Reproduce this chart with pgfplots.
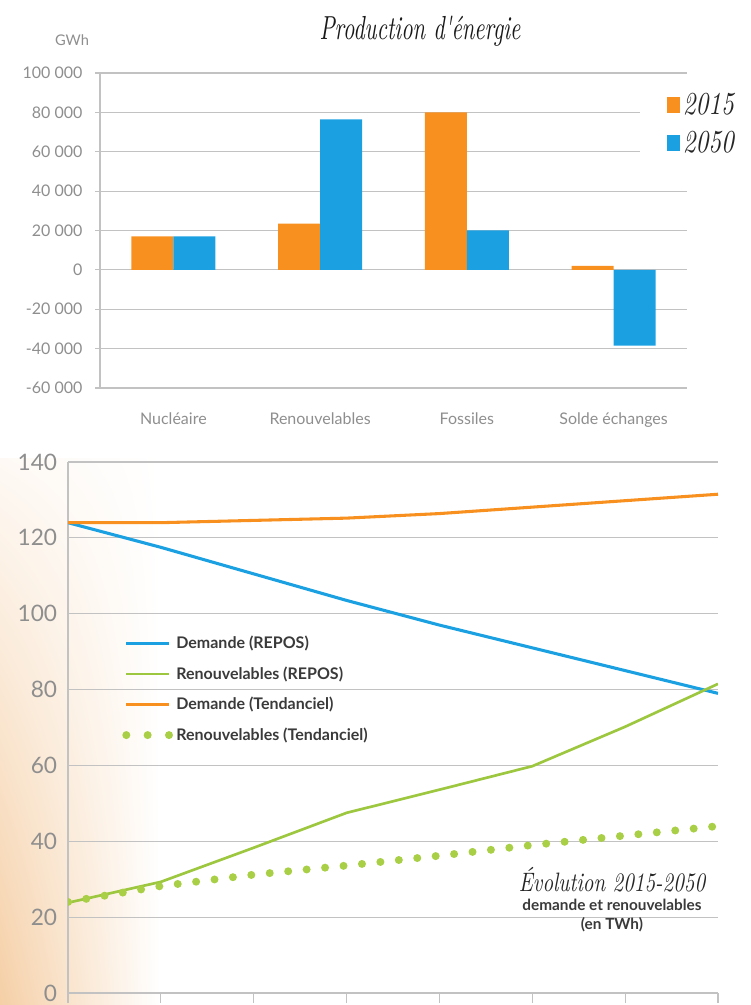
\documentclass[border=0pt]{standalone}
\usepackage{pgfplots}
\pgfplotsset{compat=1.18}
\usetikzlibrary{shadings}
\usepackage{fontspec}
\setsansfont{Lato}
\newfontfamily\scriptf{lmroman10-italic.otf}[FakeStretch=0.78]

\definecolor{cOrange}{HTML}{F7901E}
\definecolor{cBlue}{HTML}{1BA1E2}
\definecolor{cGreen}{HTML}{9DC73F}
\definecolor{cDots}{HTML}{A8CF45}
\definecolor{cGrid}{HTML}{C2C2C2}
\definecolor{cTick}{HTML}{8E8E8E}
\definecolor{cText}{HTML}{3A3A3A}
\definecolor{cPeach}{HTML}{F5CFA6}

\pgfplotsset{
  dotlegend/.style={legend image code/.code={\draw[##1, dash pattern=on 0pt off 16pt] (0pt,0pt) -- (32.5pt,0pt);}},
}

\begin{document}
\begin{tikzpicture}
\useasboundingbox (0,0) rectangle (562.5pt,753.75pt);
% soft peach background, lower left
\shade[lower left=cPeach, upper left=cPeach!12!white, lower right=white, upper right=white]
  (0,0) rectangle (120pt,410pt);

% ---- top: production d'energie (GWh)
\begin{axis}[
  at={(75pt,462.75pt)}, anchor=south west,
  width=440.25pt, height=236.25pt, scale only axis,
  font=\sffamily,
  ybar=0pt, bar width=31.5pt,
  xmin=-0.5, xmax=3.5,
  ymin=-60000, ymax=100000,
  scaled y ticks=false,
  xtick={0,1,2,3},
  xticklabels={Nucléaire, Renouvelables, Fossiles, Solde échanges},
  ytick={-60000,-40000,-20000,0,20000,40000,60000,80000,100000},
  yticklabels={-60 000,-40 000,-20 000,0,20 000,40 000,60 000,80 000,100 000},
  ticklabel style={text=cTick, font=\sffamily\fontsize{12}{14}\selectfont},
  yticklabel style={inner sep=0pt, xshift=-9.5pt},
  xticklabel style={inner sep=0pt, yshift=-15pt},
  ytick align=outside, major tick length=3.5pt,
  ytick style={cGrid, line width=0.9pt},
  xtick style={draw=none},
  axis lines*=left,
  axis line style={cGrid, line width=0.9pt},
  ymajorgrids, grid style={cGrid, line width=0.9pt},
  legend style={at={(0.92,0.971)}, anchor=north west, draw=none, fill=white,
    inner xsep=20pt, inner ysep=6pt, row sep=7pt,
    font=\scriptf\fontsize{24}{26}\selectfont, text=black!85,
    cells={anchor=west}},
  legend image code/.code={\fill[#1] (0pt,-6pt) rectangle (10pt,6pt);},
]
\addplot[draw=none, fill=cOrange] coordinates {(0,17000) (1,23500) (2,80000) (3,2000)};
\addlegendentry{2015}
\addplot[draw=none, fill=cBlue] coordinates {(0,17000) (1,76500) (2,20000) (3,-38500)};
\addlegendentry{2050}
\end{axis}

\node[text=black!90, font=\scriptf\fontsize{25}{27}\selectfont] at (315pt,730pt) {\scalebox{0.86}[1]{Production d'énergie}};
\node[text=cTick, font=\sffamily\fontsize{11}{13}\selectfont] at (54pt,723.75pt) {GWh};

% ---- bottom: evolution 2015-2050 (TWh)
\begin{axis}[
  at={(51pt,9pt)}, anchor=south west,
  width=487.5pt, height=398.25pt, scale only axis,
  font=\sffamily,
  xmin=2015, xmax=2050, ymin=0, ymax=140,
  xtick={2015,2020,2025,2030,2035,2040,2045,2050},
  xticklabels={},
  ytick={0,20,40,60,80,100,120,140},
  yticklabels={0,20,40,60,80,100,120,140},
  ticklabel style={text=cTick, font=\sffamily\fontsize{17}{19}\selectfont},
  yticklabel style={inner sep=0pt, xshift=-8pt},
  xtick align=outside, major tick length=7.5pt,
  ytick style={draw=none},
  xtick style={cGrid, line width=0.9pt},
  axis lines*=left,
  axis line style={cGrid, line width=0.9pt},
  ymajorgrids, grid style={cGrid, line width=0.9pt},
  legend style={at={(0.077,0.572)}, anchor=west, draw=none, fill=none,
    row sep=8pt, font=\sffamily\bfseries\fontsize{12}{14}\selectfont, text=cText,
    cells={anchor=west}},
  legend image code/.code={\draw[#1] (0pt,0pt) -- (32pt,0pt);},
]
\addplot[cBlue, line width=2.3pt, line join=round] coordinates {
  (2015,124) (2020,117.5) (2025,110.5) (2030,103.5) (2035,97) (2040,91) (2045,85) (2050,79)};
\addlegendentry{Demande (REPOS)}
\addplot[cGreen, line width=2pt, line join=round] coordinates {
  (2015,23.8) (2020,29.3) (2025,38.3) (2030,47.5) (2035,53.6) (2040,59.8) (2045,70.2) (2050,81.5)};
\addlegendentry{Renouvelables (REPOS)}
\addplot[cOrange, line width=2.3pt, line join=round] coordinates {
  (2015,124) (2020,124) (2025,124.6) (2030,125.2) (2035,126.4) (2040,128.1) (2045,129.8) (2050,131.5)};
\addlegendentry{Demande (Tendanciel)}
\addplot[cDots, line width=6pt, line cap=round, dash pattern=on 0pt off 13.9pt, dotlegend]
  coordinates {
  (2015,24) (2020,28.2) (2025,31.2) (2030,33.6) (2035,36.2) (2040,39) (2045,41.5) (2050,44)};
\addlegendentry{Renouvelables (Tendanciel)}
\end{axis}

\node[text=black!85, font=\scriptf\fontsize{20}{22}\selectfont] at (459pt,94pt) {Évolution 2015-2050};
\node[text=cText, font=\sffamily\bfseries\fontsize{11.5}{13}\selectfont] at (459pt,75pt) {demande et renouvelables};
\node[text=cText, font=\sffamily\bfseries\fontsize{11.5}{13}\selectfont] at (459pt,60pt) {(en TWh)};
\end{tikzpicture}
\end{document}
